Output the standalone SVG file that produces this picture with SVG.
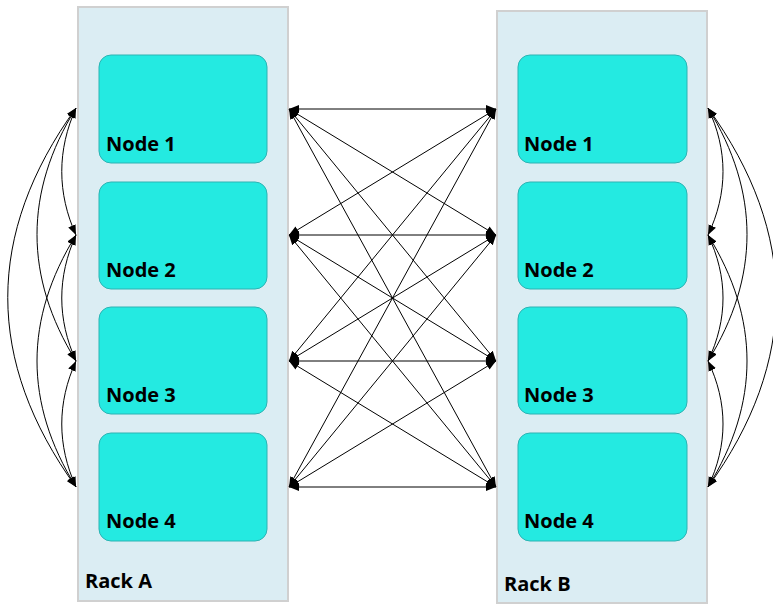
<svg xmlns="http://www.w3.org/2000/svg" width="773" height="604" viewBox="0 0 773 604">
<defs>
<marker id="ah" viewBox="0 0 10 10" refX="10" refY="5" markerWidth="10" markerHeight="10" markerUnits="userSpaceOnUse" orient="auto-start-reverse">
<path d="M0,1 L10,5 L0,9 z" fill="#000"/>
</marker>
<style>
.rack{fill:#dbedf3;stroke:#d0d0d0;stroke-width:2}
.node{fill:#24eae1;stroke:#2cb3b3;stroke-width:1}
.lbl{font-family:"Open Sans","DejaVu Sans",sans-serif;font-weight:bold;font-size:20px;fill:#000}
.c{fill:none;stroke:#000;stroke-width:1;marker-start:url(#ah);marker-end:url(#ah)}
</style>
</defs>
<g id="rackA">
<rect class="rack" x="78" y="7" width="210" height="594"/>
<text class="lbl" x="85" y="588">Rack A</text>
</g>
<g id="rackB">
<rect class="rack" x="497" y="11" width="210" height="592"/>
<text class="lbl" x="504" y="591">Rack B</text>
</g>
<g id="A1"><rect class="node" x="99" y="55" width="168" height="108" rx="12"/><text class="lbl" x="106" y="151">Node 1</text></g>
<g id="A2"><rect class="node" x="99" y="182" width="168" height="107" rx="12"/><text class="lbl" x="106" y="277">Node 2</text></g>
<g id="A3"><rect class="node" x="99" y="307" width="168" height="107" rx="12"/><text class="lbl" x="106" y="402">Node 3</text></g>
<g id="A4"><rect class="node" x="99" y="433" width="168" height="108" rx="12"/><text class="lbl" x="106" y="528">Node 4</text></g>
<g id="B1"><rect class="node" x="518" y="55" width="169" height="108" rx="12"/><text class="lbl" x="524" y="151">Node 1</text></g>
<g id="B2"><rect class="node" x="518" y="182" width="169" height="107" rx="12"/><text class="lbl" x="524" y="277">Node 2</text></g>
<g id="B3"><rect class="node" x="518" y="307" width="169" height="107" rx="12"/><text class="lbl" x="524" y="402">Node 3</text></g>
<g id="B4"><rect class="node" x="518" y="433" width="169" height="108" rx="12"/><text class="lbl" x="524" y="528">Node 4</text></g>
<g id="connectors">
<path class="c" d="M289,109 L496,109"/>
<path class="c" d="M289,109 L496,235"/>
<path class="c" d="M289,109 L496,361"/>
<path class="c" d="M289,109 L496,487"/>
<path class="c" d="M289,235 L496,109"/>
<path class="c" d="M289,235 L496,235"/>
<path class="c" d="M289,235 L496,361"/>
<path class="c" d="M289,235 L496,487"/>
<path class="c" d="M289,361 L496,109"/>
<path class="c" d="M289,361 L496,235"/>
<path class="c" d="M289,361 L496,361"/>
<path class="c" d="M289,361 L496,487"/>
<path class="c" d="M289,487 L496,109"/>
<path class="c" d="M289,487 L496,235"/>
<path class="c" d="M289,487 L496,361"/>
<path class="c" d="M289,487 L496,487"/>
<path class="c" d="M76,108 C57,150 57,193 76,235"/>
<path class="c" d="M76,235 C57,277 57,319 76,361"/>
<path class="c" d="M76,361 C57,403 57,445 76,487"/>
<path class="c" d="M76,108 C24,192 24,277 76,361"/>
<path class="c" d="M76,235 C24,319 24,403 76,487"/>
<path class="c" d="M76,108 C-15,234 -15,361 76,487"/>
<path class="c" d="M708,108 C728,150 728,193 708,235"/>
<path class="c" d="M708,235 C728,277 728,319 708,361"/>
<path class="c" d="M708,361 C728,403 728,445 708,487"/>
<path class="c" d="M708,108 C760,192 760,277 708,361"/>
<path class="c" d="M708,235 C760,319 760,403 708,487"/>
<path class="c" d="M708,108 C799,234 799,361 708,487"/>
</g>
</svg>
